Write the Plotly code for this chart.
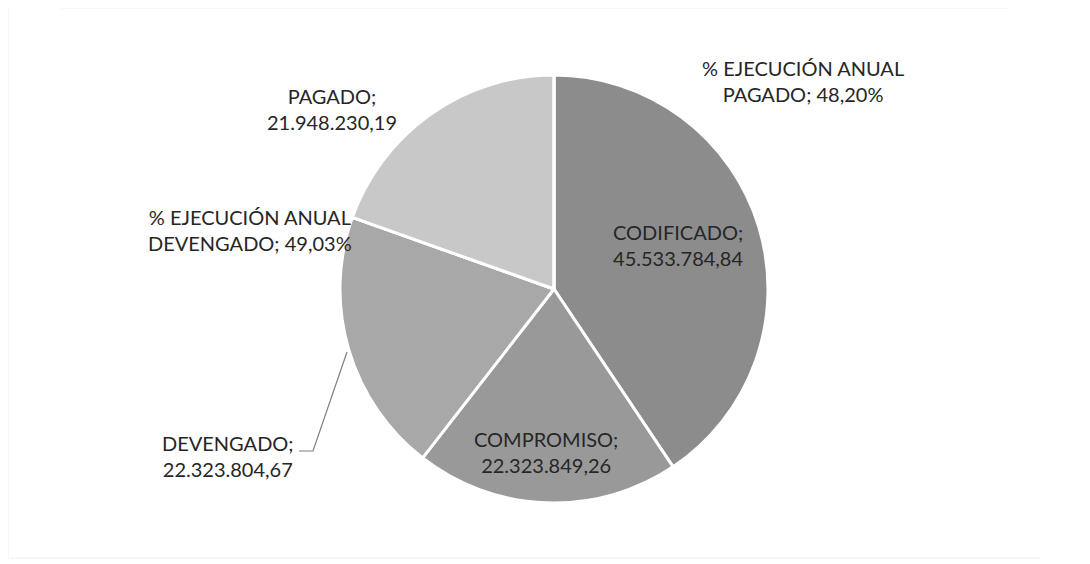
import plotly.graph_objects as go

labels = ["CODIFICADO", "COMPROMISO", "DEVENGADO",
          "% EJECUCIÓN ANUAL DEVENGADO", "PAGADO", "% EJECUCIÓN ANUAL PAGADO"]
values = [45533784.84, 22323849.26, 22323804.67, 49.03, 21948230.19, 48.20]
is_percent = [False, False, False, True, False, True]
colors = ["#8c8c8c", "#999999", "#a8a8a8", "#b5b5b5", "#c8c8c8", "#b0b0b0"]


def fmt_es(v, pct=False):
    s = f"{v:,.2f}".replace(",", "X").replace(".", ",").replace("X", ".")
    return s + "%" if pct else s


W, H = 1090, 564
OFF = 8  # page body margin
ML, MT = 18 - OFF, 75 - OFF
MB = H - (503 - OFF)
MR = OFF
PW, PH = W - ML - MR, H - MT - MB


def px(x, y):
    return (x - OFF - ML) / PW, 1 - (y - OFF - MT) / PH


fig = go.Figure(go.Pie(
    labels=labels, values=values, sort=False, direction="clockwise", rotation=0,
    marker=dict(colors=colors, line=dict(color="white", width=3)),
    textinfo="none", hoverinfo="label+value", showlegend=False,
))

texts = {}
for lab, v, p in zip(labels, values, is_percent):
    if lab.startswith("% EJECUCIÓN ANUAL "):
        head, tail = "% EJECUCIÓN ANUAL", lab[len("% EJECUCIÓN ANUAL "):]
        texts[lab] = f"{head}<br>{tail}; {fmt_es(v, p)}"
    else:
        texts[lab] = f"{lab};<br>{fmt_es(v, p)}"

label_pos = {
    "CODIFICADO": (678, 245),
    "COMPROMISO": (546, 452),
    "DEVENGADO": (228, 456),
    "% EJECUCIÓN ANUAL DEVENGADO": (250, 230),
    "PAGADO": (332, 109),
    "% EJECUCIÓN ANUAL PAGADO": (803, 81),
}
annotations = []
for lab, (x, y) in label_pos.items():
    ax, ay = px(x, y)
    annotations.append(dict(
        x=ax, y=ay, xref="paper", yref="paper", text=texts[lab], showarrow=False,
        xanchor="center", yanchor="middle", align="center",
        font=dict(family="Lato", size=20, color="#262626"),
    ))

p0, p1, p2 = px(299, 451), px(313, 451), px(347, 352)
shapes = [dict(type="path", xref="paper", yref="paper",
               path=f"M {p0[0]} {p0[1]} L {p1[0]} {p1[1]} L {p2[0]} {p2[1]}",
               line=dict(color="#7f7f7f", width=1.2))]
for (x0, y0, x1, y1) in [(8, 8, 8, 558), (60, 8, 1010, 8), (10, 558, 1040, 558)]:
    a0, b0 = px(x0, y0)
    a1, b1 = px(x1, y1)
    shapes.append(dict(type="line", xref="paper", yref="paper", x0=a0, y0=b0, x1=a1, y1=b1,
                       line=dict(color="#efefef", width=1)))

fig.update_layout(
    width=W, height=H, margin=dict(l=ML, r=MR, t=MT, b=MB),
    paper_bgcolor="white", plot_bgcolor="white",
    annotations=annotations, shapes=shapes,
)
fig.write_html("out.html")
